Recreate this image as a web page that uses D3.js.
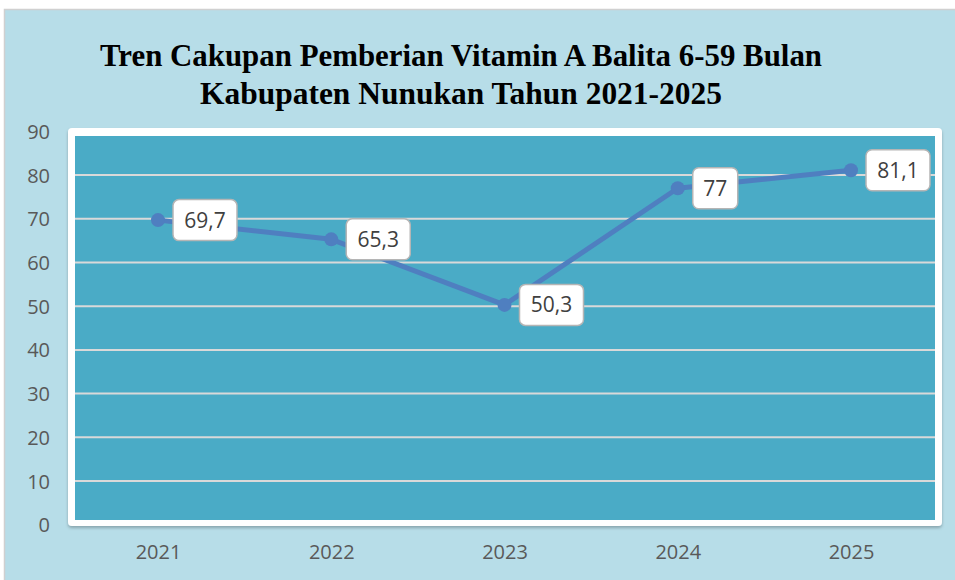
<!DOCTYPE html>
<html>
<head>
<meta charset="utf-8">
<script src="https://cdn.jsdelivr.net/npm/d3@7"></script>
<style>
  html, body { margin: 0; padding: 0; background: #ffffff; }
  svg { display: block; }
</style>
</head>
<body>
<svg id="chart" width="955" height="580"></svg>
<script>
// Coverage of vitamin A supplementation, children 6-59 months, Nunukan
const years = ["2021", "2022", "2023", "2024", "2025"];
const coverage = [69.7, 65.3, 50.3, 77, 81.1];
const yTicks = [0, 10, 20, 30, 40, 50, 60, 70, 80, 90];
const titleLines = [
  "Tren Cakupan Pemberian Vitamin A Balita 6-59 Bulan",
  "Kabupaten Nunukan Tahun 2021-2025"
];

const svg = d3.select("#chart");
const W = 955, H = 580;

const defs = svg.append("defs");
const sh = defs.append("filter").attr("id", "shadow")
  .attr("x", "-5%").attr("y", "-5%").attr("width", "110%").attr("height", "115%");
sh.append("feDropShadow").attr("dx", 0).attr("dy", 2).attr("stdDeviation", 1.5)
  .attr("flood-color", "#000").attr("flood-opacity", 0.25);

// outer panel
svg.append("rect").attr("x", 0).attr("y", 0).attr("width", W).attr("height", H).attr("fill", "#ffffff");
svg.append("rect").attr("x", 4.5).attr("y", 9.5).attr("width", W).attr("height", H)
  .attr("fill", "#b7dde8").attr("stroke", "#d0d0d0").attr("stroke-width", 1.5);

// title
svg.append("g").selectAll("text").data(titleLines).join("text")
  .attr("x", 461)
  .attr("y", (d, i) => 66 + i * 38)
  .attr("text-anchor", "middle")
  .attr("font-family", "'Liberation Serif', 'DejaVu Serif', serif")
  .attr("font-weight", "bold")
  .attr("font-size", 31)
  .attr("textLength", (d, i) => i === 0 ? 722 : 522)
  .attr("lengthAdjust", "spacingAndGlyphs")
  .attr("fill", "#000")
  .text(d => d);

// scales
const x = d3.scalePoint().domain(years).range([158, 851]);
const y = d3.scaleLinear().domain([0, 90]).range([524.7, 131.4]);

// plot frame
svg.append("rect").attr("x", 68).attr("y", 128).attr("width", 874).attr("height", 398)
  .attr("rx", 4).attr("fill", "#ffffff").attr("filter", "url(#shadow)");
svg.append("rect").attr("x", 75).attr("y", 136).attr("width", 860).attr("height", 384)
  .attr("fill", "#4aabc6");

// gridlines
svg.append("g").selectAll("line").data(yTicks.filter(t => t > 0 && t < 90)).join("line")
  .attr("x1", 75).attr("x2", 935)
  .attr("y1", d => y(d)).attr("y2", d => y(d))
  .attr("stroke", "#d9d9d9").attr("stroke-width", 2);

// y axis labels
const yAxis = d3.axisLeft(y).tickValues(yTicks).tickSize(0).tickPadding(0).tickFormat(d3.format("d"));
const gy = svg.append("g").attr("transform", "translate(50,0)").call(yAxis);
gy.select(".domain").remove();
gy.selectAll("text")
  .attr("font-family", "'Open Sans', sans-serif").attr("font-size", 20)
  .attr("fill", "#595959").attr("dy", "0.35em");

// x axis labels
const xAxis = d3.axisBottom(x).tickSize(0).tickPadding(0);
const gx = svg.append("g").attr("transform", "translate(0,545)").call(xAxis);
gx.select(".domain").remove();
gx.selectAll("text")
  .attr("font-family", "'Open Sans', sans-serif").attr("font-size", 20)
  .attr("fill", "#595959").attr("dy", "0.71em");

// series line
const pts = years.map((yr, i) => ({ yr, v: coverage[i] }));
svg.append("path").datum(pts)
  .attr("d", d3.line().x(d => x(d.yr)).y(d => y(d.v)))
  .attr("fill", "none").attr("stroke", "#4f7fc0").attr("stroke-width", 5)
  .attr("stroke-linejoin", "round");

svg.append("g").selectAll("circle").data(pts).join("circle")
  .attr("cx", d => x(d.yr)).attr("cy", d => y(d.v)).attr("r", 7)
  .attr("fill", "#4f7fc0");

// value callouts
const fmt = v => String(v).replace(".", ",");
const boxW = d => fmt(d.v).length > 2 ? 64 : 45;
const lab = svg.append("g").selectAll("g").data(pts).join("g")
  .attr("transform", d => `translate(${x(d.yr) + 15},${y(d.v)})`);
lab.append("rect")
  .attr("x", 0).attr("y", -20.5)
  .attr("width", boxW).attr("height", 41)
  .attr("rx", 6).attr("fill", "#ffffff").attr("stroke", "#b5b5b5").attr("stroke-width", 1.5);
lab.append("text")
  .attr("x", d => boxW(d) / 2).attr("y", 0).attr("dy", "0.36em")
  .attr("text-anchor", "middle")
  .attr("font-family", "'Open Sans', sans-serif").attr("font-size", 21)
  .attr("fill", "#404040")
  .text(d => fmt(d.v));
</script>
</body>
</html>
